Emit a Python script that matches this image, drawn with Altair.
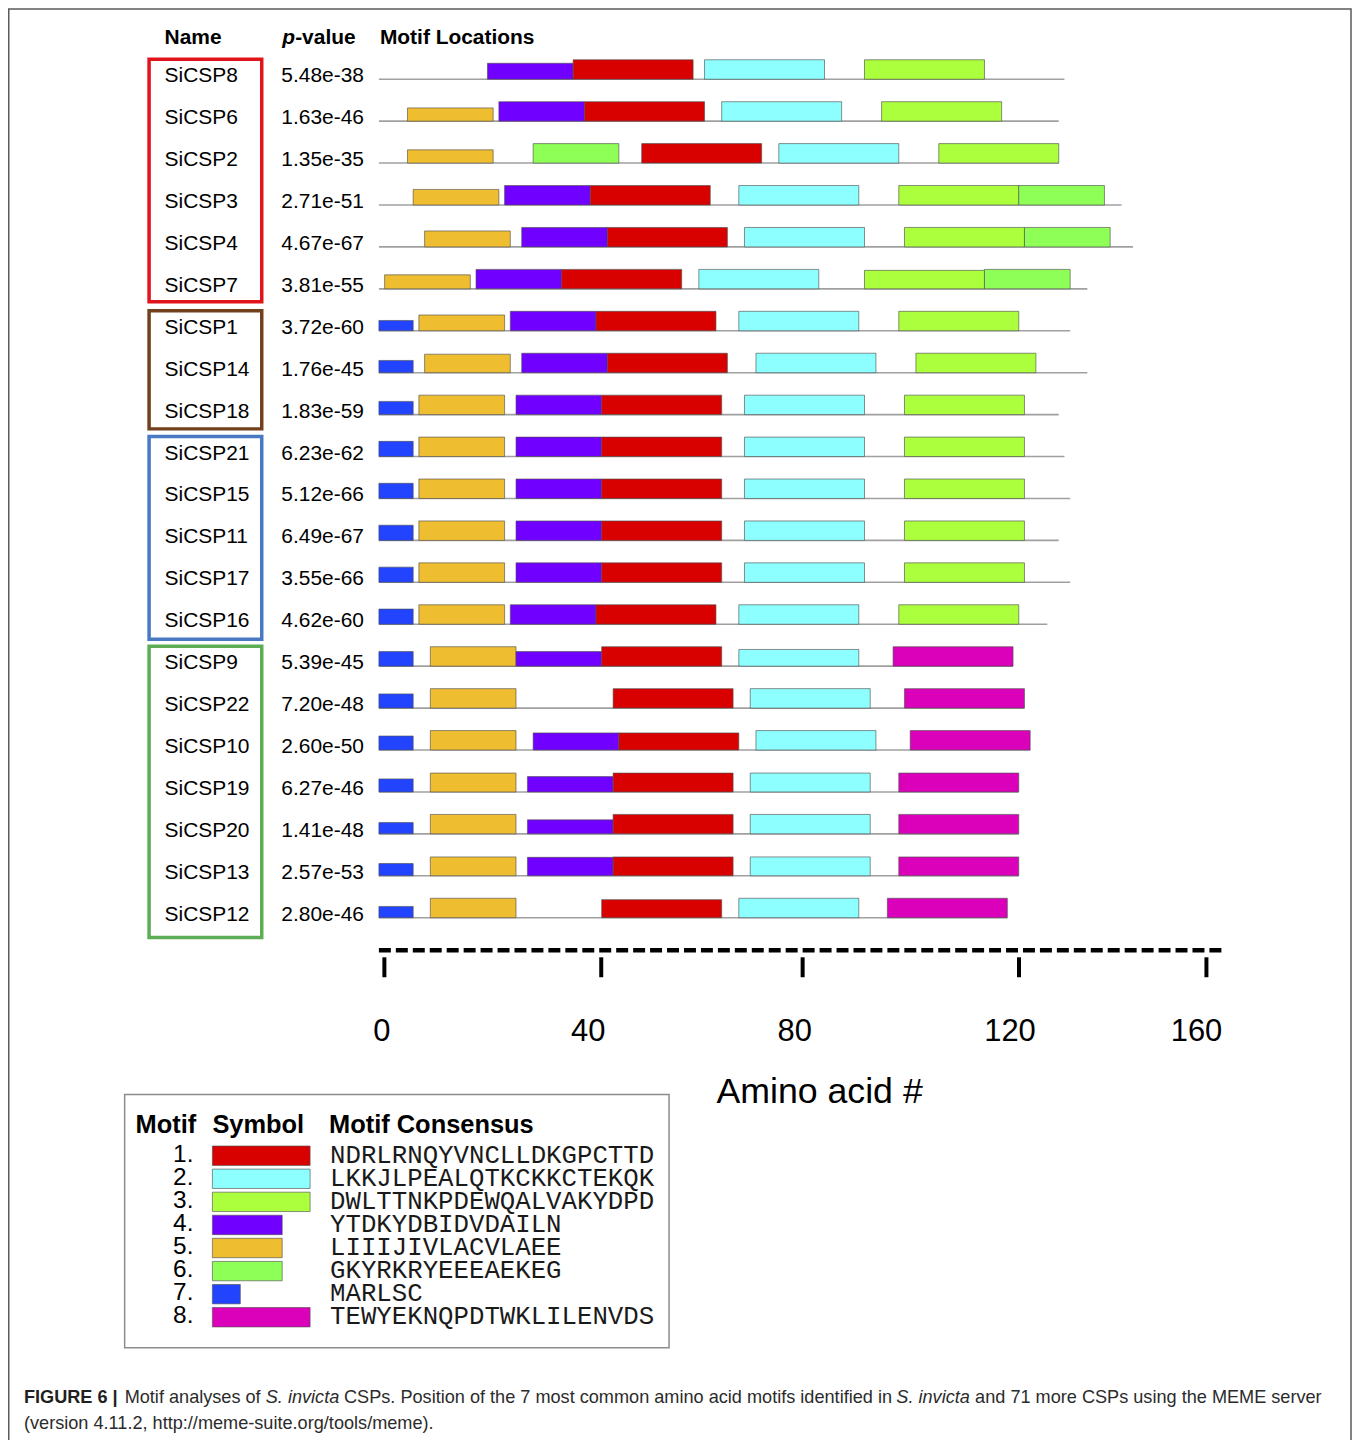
import altair as alt
import pandas as pd

# ---------------- data ----------------
names = ["SiCSP8", "SiCSP6", "SiCSP2", "SiCSP3", "SiCSP4", "SiCSP7", "SiCSP1", "SiCSP14",
         "SiCSP18", "SiCSP21", "SiCSP15", "SiCSP11", "SiCSP17", "SiCSP16", "SiCSP9",
         "SiCSP22", "SiCSP10", "SiCSP19", "SiCSP20", "SiCSP13", "SiCSP12"]
pvalues = ["5.48e-38", "1.63e-46", "1.35e-35", "2.71e-51", "4.67e-67", "3.81e-55", "3.72e-60",
           "1.76e-45", "1.83e-59", "6.23e-62", "5.12e-66", "6.49e-67", "3.55e-66", "4.62e-60",
           "5.39e-45", "7.20e-48", "2.60e-50", "6.27e-46", "1.41e-48", "2.57e-53", "2.80e-46"]
seq_lengths = [120, 119, 119, 130, 132, 124, 121, 124, 119, 120, 121, 119, 121, 117,
               111, 113, 114, 112, 112, 112, 110]

site_motifs = [
    [4, 1, 2, 3], [5, 4, 1, 2, 3], [5, 6, 1, 2, 3], [5, 4, 1, 2, 3, 6], [5, 4, 1, 2, 3, 6],
    [5, 4, 1, 2, 3, 6], [7, 5, 4, 1, 2, 3], [7, 5, 4, 1, 2, 3], [7, 5, 4, 1, 2, 3],
    [7, 5, 4, 1, 2, 3], [7, 5, 4, 1, 2, 3], [7, 5, 4, 1, 2, 3], [7, 5, 4, 1, 2, 3],
    [7, 5, 4, 1, 2, 3], [7, 5, 4, 1, 2, 8], [7, 5, 1, 2, 8], [7, 5, 4, 1, 2, 8],
    [7, 5, 4, 1, 2, 8], [7, 5, 4, 1, 2, 8], [7, 5, 4, 1, 2, 8], [7, 5, 1, 2, 8],
]
site_starts = [
    [19, 34, 57, 85], [5, 21, 36, 60, 88], [5, 27, 46, 70, 98], [6, 22, 37, 63, 91, 112],
    [8, 25, 40, 64, 92, 113], [1, 17, 32, 56, 85, 106], [0, 7, 23, 38, 63, 91],
    [0, 8, 25, 40, 66, 94], [0, 7, 24, 39, 64, 92], [0, 7, 24, 39, 64, 92],
    [0, 7, 24, 39, 64, 92], [0, 7, 24, 39, 64, 92], [0, 7, 24, 39, 64, 92],
    [0, 7, 23, 38, 63, 91], [0, 9, 24, 39, 63, 90], [0, 9, 41, 65, 92],
    [0, 9, 27, 42, 66, 93], [0, 9, 26, 41, 65, 91], [0, 9, 26, 41, 65, 91],
    [0, 9, 26, 41, 65, 91], [0, 9, 39, 63, 89],
]
# relative block height (site strength) of each motif occurrence
site_scores = [
    [0.82, 1, 1, 1], [0.68, 1, 1, 1, 1], [0.68, 1, 1, 1, 1], [0.8, 1, 1, 1, 1, 1],
    [0.82, 1, 1, 1, 1, 1], [0.72, 1, 1, 1, 0.95, 1], [0.53, 0.81, 1, 1, 1, 1],
    [0.63, 0.95, 1, 1, 1, 1], [0.68, 1, 1, 1, 1, 1], [0.78, 1, 1, 1, 1, 1],
    [0.78, 1, 1, 1, 1, 1], [0.78, 1, 1, 1, 1, 1], [0.78, 1, 1, 1, 1, 1],
    [0.78, 1, 1, 1, 1, 1], [0.75, 1, 0.75, 1, 0.86, 1], [0.73, 1, 1, 1, 1],
    [0.72, 1, 0.88, 0.88, 1, 1], [0.67, 0.97, 0.79, 0.97, 0.97, 0.97],
    [0.58, 1, 0.72, 1, 1, 1], [0.63, 0.97, 0.95, 0.97, 0.97, 0.97], [0.58, 1, 0.93, 1, 1],
]

motif_ids = [1, 2, 3, 4, 5, 6, 7, 8]
motif_lengths = [21, 21, 21, 15, 15, 15, 6, 21]
motif_consensus = ["NDRLRNQYVNCLLDKGPCTTD", "LKKJLPEALQTKCKKCTEKQK", "DWLTTNKPDEWQALVAKYDPD",
                   "YTDKYDBIDVDAILN", "LIIIJIVLACVLAEE", "GKYRKRYEEEAEKEG", "MARLSC",
                   "TEWYEKNQPDTWKLILENVDS"]
motif_colors = ["#d90000", "#8effff", "#abff3c", "#7000ff", "#efbd30", "#8eff57", "#2244ff", "#db00b9"]

group_first = [0, 6, 9, 14]
group_last = [5, 8, 13, 20]
group_colors = ["#e1131b", "#73401d", "#4a79c4", "#5dad56"]

tick_values = [0, 40, 80, 120, 160]

# ---------------- tables ----------------
BAR_FULL = 0.464  # full block height in row units

rows = pd.DataFrame({"row": list(range(len(names))), "name": names, "p": pvalues,
                     "s": 0, "e": seq_lengths})
recs = []
for i, (ms, ss, hs) in enumerate(zip(site_motifs, site_starts, site_scores)):
    for m, s, h in zip(ms, ss, hs):
        recs.append({"row": i, "motif": str(m), "start": s,
                     "end": s + motif_lengths[m - 1], "top": i - h * BAR_FULL})
sites = pd.DataFrame(recs)
box_pad_bottom = [0.31, 0.34, 0.36, 0.47]
groups = pd.DataFrame({"y0": [f - 0.476 for f in group_first],
                       "y1": [l + b for l, b in zip(group_last, box_pad_bottom)],
                       "col": group_colors})
ticks = pd.DataFrame({"t": tick_values, "lab": [str(t) for t in tick_values]})
legend = pd.DataFrame({"k": motif_ids, "motif": [str(m) for m in motif_ids],
                       "num": [f"{m}." for m in motif_ids], "z": 0, "len": motif_lengths,
                       "cons": motif_consensus})
legend["ya"] = legend["k"] - 0.42
legend["yb"] = legend["k"] + 0.42
one = pd.DataFrame({"a": [0]})

# ---------------- scales ----------------
W, H = 1348, 1432
SANS = "Liberation Sans"
row_y = alt.Scale(domain=[0, 20], range=[69.3, 910.3], nice=False, zero=False)
aa_x = alt.Scale(domain=[0, 150], range=[372, 372 + 150 * 5.73], nice=False, zero=False)
tick_x = alt.Scale(domain=tick_values, range=[377.5, 595, 797, 1014, 1202], nice=False, zero=False)
tlab_x = alt.Scale(domain=tick_values, range=[375, 582, 789, 1005, 1192], nice=False, zero=False)
leg_x = alt.Scale(domain=[0, 21], range=[205, 303], nice=False, zero=False)
leg_y = alt.Scale(domain=[1, 8], range=[1149, 1311], nice=False, zero=False)
col_scale = alt.Scale(domain=[str(m) for m in motif_ids], range=motif_colors)


def label(text, x, y, size, weight="normal", style="normal", align="left", color="black", font=SANS):
    return alt.Chart(one).mark_text(text=text, align=align, baseline="middle", font=font,
                                    fontSize=size, fontWeight=weight, fontStyle=style,
                                    color=color).encode(x=alt.value(x), y=alt.value(y))


frame = alt.Chart(one).mark_rect(filled=False, stroke="#5a5a5a", strokeWidth=1.5).encode(
    x=alt.value(0.75), x2=alt.value(1347), y=alt.value(-1.2), y2=alt.value(1600))

boxes = alt.Chart(groups).mark_rect(filled=False, strokeWidth=3.5).encode(
    x=alt.value(141.5), x2=alt.value(254.5),
    y=alt.Y("y0:Q", scale=row_y, axis=None), y2="y1:Q",
    stroke=alt.Stroke("col:N", scale=None))

backbone = alt.Chart(rows).mark_rule(color="#a0a0a0", strokeWidth=1.6).encode(
    x=alt.X("s:Q", scale=aa_x, axis=None), x2="e:Q",
    y=alt.Y("row:Q", scale=row_y, axis=None))

blocks = alt.Chart(sites).mark_rect(stroke="#505050", strokeWidth=0.8, strokeOpacity=0.8).encode(
    x=alt.X("start:Q", scale=aa_x, axis=None), x2="end:Q",
    y=alt.Y("row:Q", scale=row_y, axis=None), y2="top:Q",
    color=alt.Color("motif:N", scale=col_scale, legend=None))

name_txt = alt.Chart(rows).mark_text(align="left", baseline="middle", font=SANS, fontSize=21,
                                     dy=-3, color="black").encode(
    x=alt.value(157), y=alt.Y("row:Q", scale=row_y, axis=None), text="name:N")
p_txt = alt.Chart(rows).mark_text(align="right", baseline="middle", font=SANS, fontSize=21,
                                  dy=-3, color="black").encode(
    x=alt.value(357), y=alt.Y("row:Q", scale=row_y, axis=None), text="p:N")

headers = [
    label("Name", 157, 28, 21, weight="bold"),
    label("p", 275, 28, 21, weight="bold", style="italic"),
    label("-value", 288, 28, 21, weight="bold"),
    label("Motif Locations", 373, 28, 21, weight="bold"),
]

dash_line = alt.Chart(one).mark_rule(color="black", strokeWidth=4.5, strokeDash=[12, 5]).encode(
    x=alt.value(372), x2=alt.value(1222), y=alt.value(943))
tick_marks = alt.Chart(ticks).mark_rule(color="black", strokeWidth=4).encode(
    x=alt.X("t:Q", scale=tick_x, axis=None), y=alt.value(950), y2=alt.value(970))
tick_labels = alt.Chart(ticks).mark_text(baseline="middle", font=SANS, fontSize=31,
                                         color="black").encode(
    x=alt.X("t:Q", scale=tlab_x, axis=None), y=alt.value(1025), text="lab:N")
axis_title = label("Amino acid #", 814, 1085, 35.8, align="center")

leg_box = alt.Chart(one).mark_rect(filled=False, stroke="#8c8c8c", strokeWidth=1.5).encode(
    x=alt.value(117), x2=alt.value(663), y=alt.value(1087.5), y2=alt.value(1341.5))
leg_heads = [
    label("Motif", 128, 1118, 25.5, weight="bold"),
    label("Symbol", 205, 1118, 25.5, weight="bold"),
    label("Motif Consensus", 322, 1118, 25.5, weight="bold"),
]
leg_num = alt.Chart(legend).mark_text(align="right", baseline="middle", font=SANS, fontSize=24.5,
                                      dy=-1, color="black").encode(
    x=alt.value(186), y=alt.Y("k:Q", scale=leg_y, axis=None), text="num:N")
leg_rect = alt.Chart(legend).mark_rect(stroke="#505050", strokeWidth=0.8, strokeOpacity=0.8).encode(
    x=alt.X("z:Q", scale=leg_x, axis=None), x2="len:Q",
    y=alt.Y("ya:Q", scale=leg_y, axis=None), y2="yb:Q",
    color=alt.Color("motif:N", scale=col_scale, legend=None))
leg_cons = alt.Chart(legend).mark_text(align="left", baseline="middle", font="Liberation Mono",
                                       fontSize=25.8, dy=-1, color="#1a1a1a").encode(
    x=alt.value(323), y=alt.Y("k:Q", scale=leg_y, axis=None), text="cons:N")

CAP = "#2b2b2b"
CS = 18.2
caption = [
    label("FIGURE 6 |", 16, 1392, CS, weight="bold", color="#231f20"),
    label("Motif analyses of", 117, 1392, CS, color=CAP),
    label("S. invicta", 258.5, 1392, CS, style="italic", color=CAP),
    label("CSPs. Position of the 7 most common amino acid motifs identified in", 337, 1392, CS, color=CAP),
    label("S. invicta", 891, 1392, CS, style="italic", color=CAP),
    label("and 71 more CSPs using the MEME server", 970, 1392, CS, color=CAP),
    label("(version 4.11.2, http://meme-suite.org/tools/meme).", 16, 1418, CS, color=CAP),
]

chart = alt.layer(
    frame, boxes, backbone, blocks, name_txt, p_txt, *headers,
    dash_line, tick_marks, tick_labels, axis_title,
    leg_box, *leg_heads, leg_num, leg_rect, leg_cons, *caption,
).resolve_scale(x="independent", y="independent").properties(
    width=W, height=H, autosize=alt.AutoSizeParams(type="none"), padding=0,
    background="white",
).configure_view(strokeWidth=0)

chart.save("out.html", embed_options={"renderer": "svg", "actions": False})
